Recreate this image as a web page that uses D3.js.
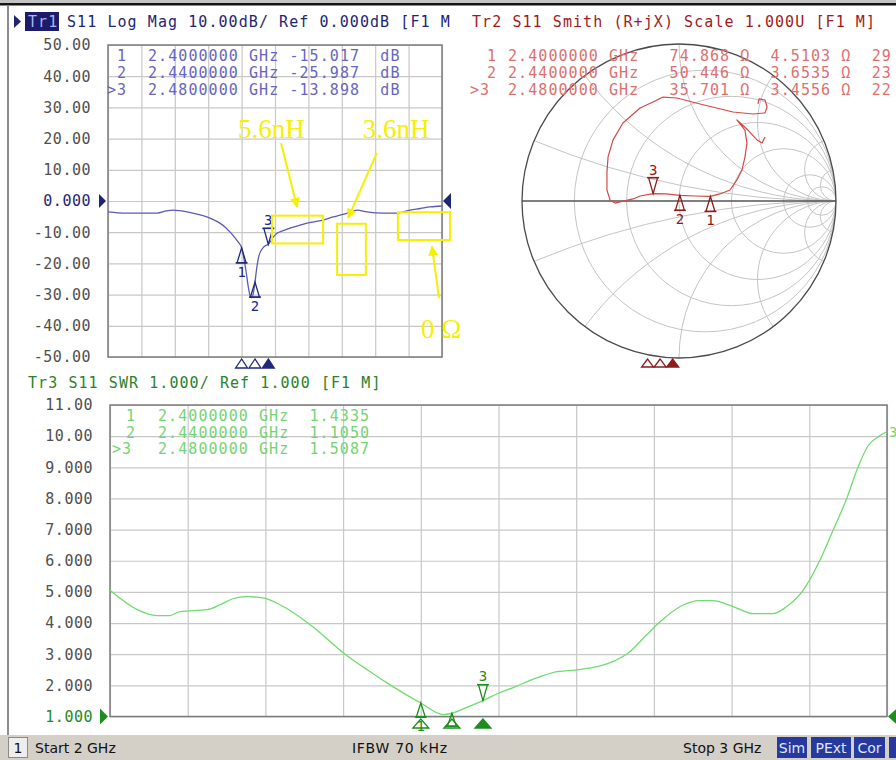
<!DOCTYPE html>
<html><head><meta charset="utf-8">
<script src="https://cdn.jsdelivr.net/npm/d3@7"></script>
<style>
html,body{margin:0;padding:0;background:#fff;}
svg{display:block;}
.mono{font-family:"DejaVu Sans Mono",monospace;font-size:15px;letter-spacing:1.07px;white-space:pre;}
.ann{font-family:"Liberation Serif","Times New Roman",serif;font-size:27px;}
.stat{font-family:"DejaVu Sans",sans-serif;font-size:14px;}
</style></head><body>
<svg id="c" width="896" height="760" xmlns="http://www.w3.org/2000/svg"></svg>
<script>
// ---------------- DATA ----------------
const freqTicks = [2.0,2.1,2.2,2.3,2.4,2.5,2.6,2.7,2.8,2.9,3.0];           // GHz
const logMagTicks = [50,40,30,20,10,0,-10,-20,-30,-40,-50];                // dB
const swrTicks = [11,10,9,8,7,6,5,4,3,2,1];

// Tr1  S11 Log Mag (dB)
const logMagFreq = [2.000,2.030,2.057,2.100,2.147,2.175,2.195,2.215,2.237,2.270,2.296,2.320,2.335,2.352,2.365,2.378,2.390,2.400,2.407,2.414,2.420,2.426,2.431,2.436,2.440,2.446,2.452,2.464,2.472,2.480,2.495,2.506,2.525,2.545,2.570,2.596,2.620,2.644,2.674,2.700,2.716,2.746,2.775,2.823,2.865,2.904,2.935,2.964,3.000];
const logMagDb   = [-3.5,-3.8,-3.9,-3.9,-3.9,-3.2,-2.9,-3.1,-3.5,-4.3,-5.1,-6.2,-7.1,-8.5,-9.9,-11.5,-13.2,-15.0,-18.5,-23.0,-27.5,-30.5,-31.0,-29.0,-26.0,-21.0,-17.5,-15.0,-14.3,-13.9,-11.5,-10.3,-9.5,-8.7,-7.9,-7.1,-6.6,-6.1,-5.1,-4.4,-3.9,-2.9,-3.5,-3.9,-3.9,-2.9,-2.4,-1.9,-1.6];

// Tr3  S11 SWR
const swrFreq = [2.000,2.035,2.060,2.077,2.090,2.125,2.142,2.158,2.176,2.197,2.223,2.261,2.300,2.331,2.364,2.400,2.429,2.440,2.460,2.480,2.502,2.519,2.544,2.570,2.601,2.627,2.647,2.669,2.691,2.708,2.734,2.759,2.776,2.802,2.828,2.853,2.871,2.892,2.914,2.931,2.949,2.961,2.976,2.990,3.000];
const swrVal  = [5.05,4.43,4.24,4.24,4.37,4.43,4.59,4.78,4.85,4.81,4.53,3.88,3.05,2.50,1.96,1.4335,1.06,1.105,1.30,1.5087,1.77,1.93,2.19,2.41,2.50,2.60,2.76,3.08,3.63,4.04,4.53,4.72,4.72,4.53,4.30,4.30,4.53,5.05,6.03,7.00,8.05,8.90,9.70,10.00,10.15];

// Tr2  S11 Smith (reflection coefficient, real / imaginary)
const smithRe = [0.548,0.529,0.497,0.439,0.369,0.420,0.433,0.420,0.401,0.369,0.325,0.261,0.200,0.102,0.006,-0.083,-0.165,-0.248,-0.293,-0.376,-0.408,-0.439,-0.459,-0.459,-0.452,-0.420,-0.357,-0.248,-0.166,-0.102,-0.013,0.134,0.344,0.471,0.548,0.561,0.548,0.510,0.503];
const smithIm = [0.408,0.369,0.389,0.452,0.516,0.452,0.369,0.280,0.197,0.134,0.070,0.045,0.029,0.032,0.036,0.045,0.047,0.032,0.013,-0.006,-0.013,0.006,0.070,0.178,0.280,0.389,0.497,0.592,0.631,0.662,0.656,0.618,0.567,0.554,0.561,0.599,0.643,0.650,0.618];
const smithRCircles = [0.2,0.5,1,2,5,10];
const smithXArcs = [0.2,0.5,1,2,5,10];

// Markers
const markerId = ["1","2","3"];
const markerFreq = [2.40,2.44,2.48];
const markerFreqTxt = ["2.4000000","2.4400000","2.4800000"];
const markerLogMag = [-15.017,-25.987,-13.898];
const markerLogMagTxt = ["-15.017","-25.987","-13.898"];
const markerSwr = [1.4335,1.1050,1.5087];
const markerSwrTxt = ["1.4335","1.1050","1.5087"];
const markerR = [74.868,50.446,35.701];
const markerRTxt = ["74.868","50.446","35.701"];
const markerX = [4.5103,3.6535,3.4556];
const markerXTxt = ["4.5103","3.6535","3.4556"];
const markerLTxt = ["29","23","22"];   // visible part of the (cut) inductance column

// Yellow annotations (in Log Mag chart units: GHz, dB)
const annoRects = [[2.491,2.644,-4.7,-13.6],[2.686,2.772,-7.3,-23.7],[2.868,3.024,-3.6,-12.5]];
const annoArrows = [[2.518,18.6,2.566,-1.9],[2.805,15.4,2.719,-5.4],[2.991,-31.1,2.970,-14.6]];
const annoTexts = [["5.6nH",2.389,20.2],["3.6nH",2.763,20.2],["0 \u03A9",2.937,-43.9]];

// ---------------- DRAW ----------------
const svg = d3.select("#c");
const defs = svg.append("defs");
const NAVY = "#1e2674", NAVYM = "#20287a", BLUE_T = "#5a5ab4", BLUE_TXT = "#6666c0";
const RED_H = "#a01c1c", RED_T = "#d44848", RED_TXT = "#dc7070", RED_M = "#8c1c1c";
const GRN_H = "#2a822a", GRN_T = "#6edc6e", GRN_TXT = "#74d474", GRN_M = "#1e8c1e";
const GRID = "#c8c8c8", BORDER = "#7c7c7c", LBL = "#505050", YEL = "#f5f000";

svg.append("rect").attr("x",0).attr("y",0).attr("width",896).attr("height",760).attr("fill","#fff");
svg.append("rect").attr("x",0).attr("y",0).attr("width",896).attr("height",3).attr("fill","#c4c4c4");
svg.append("rect").attr("x",0).attr("y",3).attr("width",896).attr("height",2.5).attr("fill","#151515");
svg.append("rect").attr("x",7).attr("y",5).attr("width",2).attr("height",730).attr("fill","#8c8c8c");

function monoText(g, x, y, str, color, anchor){
  return g.append("text").attr("class","mono").attr("x",x).attr("y",y)
    .attr("xml:space","preserve").attr("fill",color).attr("text-anchor",anchor||"start").text(str);
}
function triUp(g, cx, ay, h, hw, color, filled, bar){
  g.append("path").attr("d",`M${cx},${ay}L${cx-hw},${ay+h}L${cx+hw},${ay+h}Z`)
    .attr("fill",filled?color:"none").attr("stroke",color).attr("stroke-width",1.3);
  if(bar) g.append("line").attr("x1",cx-hw-1.5).attr("x2",cx+hw+1.5).attr("y1",ay+h).attr("y2",ay+h).attr("stroke",color).attr("stroke-width",1.5);
}
function triDown(g, cx, ay, h, hw, color, bar){
  g.append("path").attr("d",`M${cx},${ay}L${cx-hw},${ay-h}L${cx+hw},${ay-h}Z`)
    .attr("fill","none").attr("stroke",color).attr("stroke-width",1.3);
  if(bar) g.append("line").attr("x1",cx-hw-1.5).attr("x2",cx+hw+1.5).attr("y1",ay-h).attr("y2",ay-h).attr("stroke",color).attr("stroke-width",1.5);
}
function markerLabel(g, cx, y, t, color){
  g.append("text").attr("x",cx).attr("y",y).attr("text-anchor","middle")
   .attr("font-family","DejaVu Sans Mono, monospace").attr("font-size",14).attr("fill",color).text(t);
}
function rectChart(xs, ys, ticksY, fmt){
  const g = svg.append("g");
  const top = ys.range()[1], bot = ys.range()[0], left = xs.range()[0], right = xs.range()[1];
  const gv = g.append("g").attr("transform",`translate(0,${bot})`)
    .call(d3.axisBottom(xs).tickValues(freqTicks).tickSize(-(bot-top)).tickFormat(""));
  gv.select(".domain").remove(); gv.selectAll("line").attr("stroke",GRID).attr("stroke-width",1.2);
  const gh = g.append("g").attr("transform",`translate(${left},0)`)
    .call(d3.axisLeft(ys).tickValues(ticksY).tickSize(-(right-left)).tickFormat(""));
  gh.select(".domain").remove(); gh.selectAll("line").attr("stroke",GRID).attr("stroke-width",1.2);
  g.append("rect").attr("x",left).attr("y",top).attr("width",right-left).attr("height",bot-top)
    .attr("fill","none").attr("stroke",BORDER).attr("stroke-width",1.5);
  const gl = g.append("g").attr("transform",`translate(${left},0)`)
    .call(d3.axisLeft(ys).tickValues(ticksY).tickSize(0).tickPadding(17).tickFormat(fmt));
  gl.select(".domain").remove();
  gl.attr("font-family","DejaVu Sans Mono, monospace").attr("font-size",15).style("letter-spacing","0.5px");
  gl.selectAll("text").attr("fill",LBL);
  return {g, gl};
}

// ===== Tr1 Log Mag =====
const x1 = d3.scaleLinear().domain([2,3]).range([108,442]);
const y1 = d3.scaleLinear().domain([-50,50]).range([357,45]);
const c1 = rectChart(x1, y1, logMagTicks, d => d===0 ? "0.000" : d.toFixed(2));
c1.gl.selectAll("text").filter(d => d===0).attr("fill",NAVY);
svg.append("path").attr("d",`M${x1(2)-9},${y1(0)-7}L${x1(2)-2},${y1(0)}L${x1(2)-9},${y1(0)+7}Z`).attr("fill",NAVY);
svg.append("path").attr("d",`M${x1(3)+1},${y1(0)}L${x1(3)+9},${y1(0)-8}L${x1(3)+9},${y1(0)+8}Z`).attr("fill",NAVY);
svg.append("path").datum(logMagFreq.map((f,i)=>[f,logMagDb[i]]))
  .attr("d",d3.line().x(d=>x1(d[0])).y(d=>y1(d[1])).curve(d3.curveMonotoneX))
  .attr("fill","none").attr("stroke",BLUE_T).attr("stroke-width",1.3);
const m1g = svg.append("g");
[0,1].forEach(i=>{
  const cx = x1(markerFreq[i]), ay = y1(markerLogMag[i]);
  triUp(m1g, cx, ay, 15, 4.5, NAVYM, false, true);
  markerLabel(m1g, cx, ay+29, markerId[i], NAVYM);
});
{ const cx = x1(markerFreq[2]), ay = y1(markerLogMag[2]);
  triDown(m1g, cx, ay, 16, 4.5, NAVYM, true);
  markerLabel(m1g, cx, ay-19, markerId[2], NAVYM); }
markerFreq.forEach((f,i)=> triUp(m1g, x1(f), y1(-50)+2, 9, 6, NAVYM, i===2, false));
svg.append("path").attr("d","M14,15L21,21.5L14,28Z").attr("fill",NAVY);
svg.append("rect").attr("x",25).attr("y",12).attr("width",34).attr("height",19).attr("fill","#1c1c6a");
monoText(svg, 28, 27, "Tr1", "#aab4f4");
monoText(svg, 67, 27, "S11 Log Mag 10.00dB/ Ref 0.000dB [F1 M", NAVY);
const rowsY = [60.5,77.5,94.5];
markerId.forEach((id,i)=>{
  monoText(svg, i===2?107:117, rowsY[i], i===2?">3":id, BLUE_TXT);
  monoText(svg, 148, rowsY[i], `${markerFreqTxt[i]} GHz ${markerLogMagTxt[i]}  dB`, BLUE_TXT);
});

// ===== Tr2 Smith =====
const sx = d3.scaleLinear().domain([-1,1]).range([522,836]);
const sy = d3.scaleLinear().domain([-1,1]).range([358,44]);
const Rpx = sx(1)-sx(0);
defs.append("clipPath").attr("id","sclip").append("circle").attr("cx",sx(0)).attr("cy",sy(0)).attr("r",Rpx);
const sg = svg.append("g").attr("clip-path","url(#sclip)");
smithRCircles.forEach(r=>{
  sg.append("circle").attr("cx",sx(r/(1+r))).attr("cy",sy(0)).attr("r",Rpx/(1+r))
    .attr("fill","none").attr("stroke","#c4c4c4").attr("stroke-width",1);
});
smithXArcs.forEach(xv=>[1,-1].forEach(s=>{
  sg.append("circle").attr("cx",sx(1)).attr("cy",sy(s/xv)).attr("r",Rpx/xv)
    .attr("fill","none").attr("stroke","#c4c4c4").attr("stroke-width",1);
}));
svg.append("line").attr("x1",sx(-1)).attr("x2",sx(1)).attr("y1",sy(0)).attr("y2",sy(0)).attr("stroke","#555").attr("stroke-width",1.3);
svg.append("circle").attr("cx",sx(0)).attr("cy",sy(0)).attr("r",Rpx).attr("fill","none").attr("stroke","#4a4a4a").attr("stroke-width",1.3);
svg.append("path").datum(smithRe.map((r,i)=>[r,smithIm[i]]))
  .attr("d",d3.line().x(d=>sx(d[0])).y(d=>sy(d[1])))
  .attr("fill","none").attr("stroke",RED_T).attr("stroke-width",1.2).attr("stroke-linejoin","round");
const gam = markerR.map((R,i)=>{ const zr=R/50, zi=markerX[i]/50; const nr=zr-1, dr=zr+1; const den=dr*dr+zi*zi;
  return [(nr*dr+zi*zi)/den, (zi*dr-nr*zi)/den]; });
const m2g = svg.append("g");
[0,1].forEach(i=>{ const cx=sx(gam[i][0]), ay=sy(gam[i][1]);
  triUp(m2g, cx, ay, 15, 4.5, RED_M, false, true); markerLabel(m2g, cx, ay+29, markerId[i], RED_M); });
{ const cx=sx(gam[2][0]), ay=sy(gam[2][1]);
  triDown(m2g, cx, ay, 16, 4.5, RED_M, true); markerLabel(m2g, cx, ay-19, markerId[2], RED_M); }
const sf = d3.scaleLinear().domain([2,3]).range([sx(-1),sx(1)]);
markerFreq.forEach((f,i)=> triUp(m2g, sf(f), 359, 8, 6, RED_M, i===2, false));
monoText(svg, 472, 27, "Tr2 S11 Smith (R+jX) Scale 1.000U [F1 M]", RED_H);
markerId.forEach((id,i)=>{
  monoText(svg, i===2?470:487, rowsY[i], i===2?">3":id, RED_TXT);
  monoText(svg, 508, rowsY[i], `${markerFreqTxt[i]} GHz   ${markerRTxt[i]} \u03A9  ${markerXTxt[i]} \u03A9  ${markerLTxt[i]}`, RED_TXT);
});

// ===== Tr3 SWR =====
const x3 = d3.scaleLinear().domain([2,3]).range([110,887]);
const y3 = d3.scaleLinear().domain([1,11]).range([716.5,405]);
const c3 = rectChart(x3, y3, swrTicks, d => d>=10 ? d.toFixed(2) : d.toFixed(3));
c3.gl.selectAll("text").filter(d => d===1).attr("fill",GRN_M);
svg.append("path").attr("d",`M${x3(2)-10},${y3(1)-8}L${x3(2)-2},${y3(1)}L${x3(2)-10},${y3(1)+8}Z`).attr("fill",GRN_M);
svg.append("path").attr("d",`M${x3(3)+1},${y3(1)}L${x3(3)+11},${y3(1)-9}L${x3(3)+11},${y3(1)+9}Z`).attr("fill",GRN_M);
svg.append("path").datum(swrFreq.map((f,i)=>[f,swrVal[i]]))
  .attr("d",d3.line().x(d=>x3(d[0])).y(d=>y3(d[1])).curve(d3.curveMonotoneX))
  .attr("fill","none").attr("stroke",GRN_T).attr("stroke-width",1.3);
svg.append("text").attr("x",x3(3)+2).attr("y",y3(swrVal[swrVal.length-1])+6)
  .attr("font-family","DejaVu Sans Mono, monospace").attr("font-size",14).attr("fill",GRN_TXT).text("3");
const m3g = svg.append("g");
markerFreq.forEach((f,i)=> triUp(m3g, x3(f), 719, 9, 8, GRN_M, i===2, false));
{ const cx=x3(markerFreq[0]), ay=y3(markerSwr[0]);
  triUp(m3g, cx, ay, 14, 4.5, GRN_M, false, true); markerLabel(m3g, cx, ay+28, markerId[0], GRN_M); }
{ const cx=x3(markerFreq[1]), ay=y3(markerSwr[1]);
  triUp(m3g, cx, ay, 13, 4.5, GRN_M, false, true); }
{ const cx=x3(markerFreq[2]), ay=y3(markerSwr[2]);
  triDown(m3g, cx, ay, 16, 4.5, GRN_M, true); markerLabel(m3g, cx, ay-20, markerId[2], GRN_M); }
monoText(svg, 28, 388, "Tr3 S11 SWR 1.000/ Ref 1.000 [F1 M]", GRN_H);
const rowsY3 = [421,437.5,454];
markerId.forEach((id,i)=>{
  monoText(svg, i===2?112:126, rowsY3[i], i===2?">3":id, GRN_TXT);
  monoText(svg, 158, rowsY3[i], `${markerFreqTxt[i]} GHz  ${markerSwrTxt[i]}`, GRN_TXT);
});

// ===== Yellow annotations =====
const ag = svg.append("g");
defs.append("marker").attr("id","ah").attr("viewBox","0 0 10 10").attr("refX",9).attr("refY",5)
  .attr("markerWidth",5).attr("markerHeight",5).attr("orient","auto-start-reverse")
  .append("path").attr("d","M0,0L10,5L0,10Z").attr("fill",YEL);
annoRects.forEach(r=> ag.append("rect").attr("x",x1(r[0])).attr("y",y1(r[2])).attr("width",x1(r[1])-x1(r[0])).attr("height",y1(r[3])-y1(r[2]))
  .attr("fill","none").attr("stroke",YEL).attr("stroke-width",2));
annoArrows.forEach(a=> ag.append("line").attr("x1",x1(a[0])).attr("y1",y1(a[1])).attr("x2",x1(a[2])).attr("y2",y1(a[3]))
  .attr("stroke",YEL).attr("stroke-width",2).attr("marker-end","url(#ah)"));
annoTexts.forEach(t=> ag.append("text").attr("class","ann").attr("x",x1(t[1])).attr("y",y1(t[2])).attr("fill",YEL).text(t[0]));

// ===== Status bar =====
const sb = svg.append("g");
sb.append("rect").attr("x",0).attr("y",735).attr("width",896).attr("height",25).attr("fill","#d4d0c8");
sb.append("rect").attr("x",8.5).attr("y",737.5).attr("width",19).attr("height",20).attr("fill","#eeeeee").attr("stroke","#8a8a8a");
sb.append("text").attr("class","stat").attr("x",18).attr("y",753).attr("text-anchor","middle").attr("fill","#111").text("1");
sb.append("text").attr("class","stat").attr("x",35).attr("y",753).attr("fill","#111").text("Start 2 GHz");
sb.append("text").attr("class","stat").attr("x",352).attr("y",753).attr("fill","#111").attr("textLength",95).text("IFBW 70 kHz");
sb.append("text").attr("class","stat").attr("x",683).attr("y",753).attr("fill","#111").text("Stop 3 GHz");
[["Sim",777,30],["PExt",811,40],["Cor",854,31],["",889,12]].forEach(b=>{
  sb.append("rect").attr("x",b[1]).attr("y",737).attr("width",b[2]).attr("height",21).attr("fill","#26399c");
  if(b[0]) sb.append("text").attr("class","stat").attr("x",b[1]+b[2]/2).attr("y",753).attr("text-anchor","middle").attr("fill","#dfe6ff").text(b[0]);
});
</script>
</body></html>
